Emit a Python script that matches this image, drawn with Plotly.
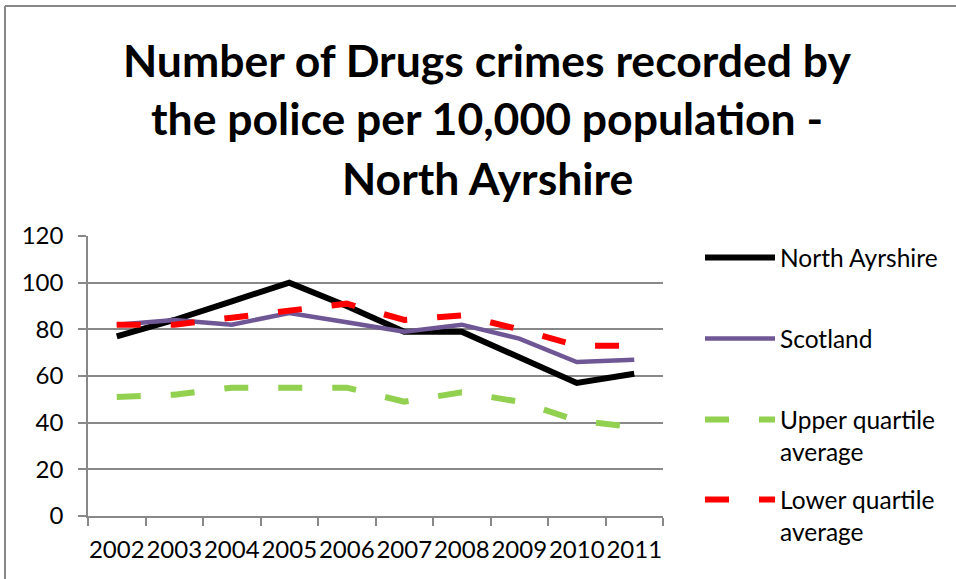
import plotly.graph_objects as go

years = ["2002", "2003", "2004", "2005", "2006", "2007", "2008", "2009", "2010", "2011"]
north_ayrshire = [77, 84, 92, 100, 90, 79, 79, 68, 57, 61]
scotland = [82, 84, 82, 87, 83, 79, 82, 76, 66, 67]
upper_quartile = [51, 52, 55, 55, 55, 49, 53, 49, 41, 38]
lower_quartile = [82, 82, 85, 88, 91, 84, 86, 80, 73, 73]

title_lines = ["Number of Drugs crimes recorded by",
               "the police per 10,000 population -",
               "North Ayrshire"]

W, H = 956, 579
L, R, T, B = 88, 663, 236, 516  # plot area in px


def px_x(p):
    return (p - L) / (R - L)


def px_y(p):
    return (B - p) / (B - T)


FONT = "Lato"
fig = go.Figure()

series = [
    ("North Ayrshire", north_ayrshire, dict(color="#000000", width=6), "legend", 257),
    ("Scotland", scotland, dict(color="#6F5795", width=4.5), "legend2", 338),
    ("Upper quartile<br>average", upper_quartile, dict(color="#92D050", width=6, dash="24px,30px"), "legend3", 419),
    ("Lower quartile<br>average", lower_quartile, dict(color="#FF0000", width=6, dash="24px,30px"), "legend4", 499),
]

for name, vals, line, lg, _ in series:
    fig.add_trace(go.Scatter(x=years, y=vals, mode="lines", name=name,
                             line=line, legend=lg))

layout_legends = {}
for name, vals, line, lg, ypx in series:
    layout_legends[lg] = dict(
        x=px_x(700), xanchor="left", y=px_y(ypx - 22), yanchor="top",
        font=dict(family=FONT, size=24.5, color="#000000"),
        bgcolor="rgba(0,0,0,0)", borderwidth=0, valign="top",
        itemwidth=70,
    )

annotations = []
for i, (txt, ypx) in enumerate(zip(title_lines, [59, 118, 177])):
    annotations.append(dict(
        text="<b>" + txt + "</b>", x=px_x(487), y=px_y(ypx), xref="paper", yref="paper",
        xanchor="center", yanchor="middle", showarrow=False,
        font=dict(family=FONT, size=44.5, color="#000000")))

shapes = [
    dict(type="line", xref="paper", yref="paper", x0=px_x(5), x1=px_x(960),
         y0=px_y(6), y1=px_y(6), line=dict(color="#888888", width=2)),
    dict(type="line", xref="paper", yref="paper", x0=px_x(5), x1=px_x(5),
         y0=px_y(6), y1=px_y(585), line=dict(color="#888888", width=2)),
]

fig.update_layout(
    width=W, height=H,
    margin=dict(l=L, r=W - R, t=T, b=H - B, autoexpand=False),
    paper_bgcolor="white", plot_bgcolor="white",
    showlegend=True,
    annotations=annotations,
    shapes=shapes,
    xaxis=dict(type="category", range=[-0.5, 9.5], tickson="boundaries",
               ticks="outside", ticklen=8, tickcolor="#888888", tickwidth=1.5,
               showline=True, linecolor="#888888", linewidth=1.5,
               showgrid=False, tickangle=0, ticklabelstandoff=11,
               tickfont=dict(family=FONT, size=24, color="#000000")),
    yaxis=dict(range=[0, 120], dtick=20, ticks="outside", ticklen=8,
               tickcolor="#888888", tickwidth=1.5,
               showline=True, linecolor="#888888", linewidth=1.5,
               showgrid=True, gridcolor="#888888", gridwidth=1.5,
               zeroline=False, ticklabelstandoff=10,
               tickfont=dict(family=FONT, size=24, color="#000000")),
    **layout_legends,
)

fig.write_html("out.html")
